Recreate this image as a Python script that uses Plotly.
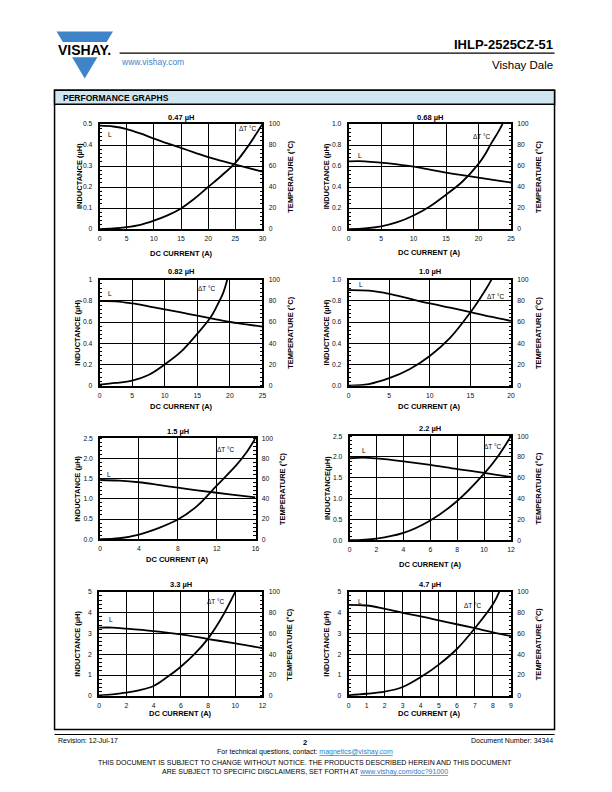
"""
Performance graphs page for IHLP-2525CZ-51: inductance and temperature
rise versus DC current, eight values on one datasheet page.
"""

import plotly.graph_objects as go

# ---- data ----
TITLES = ["0.47 µH", "0.68 µH", "0.82 µH", "1.0 µH",
          "1.5 µH", "2.2 µH", "3.3 µH", "4.7 µH"]

# 0.47 uH
L_X_047 = [0, 2.5, 5, 7.5, 10, 12.5, 15, 17.5, 20, 22.5, 25, 27.5, 30]
L_047 = [0.492, 0.488, 0.476, 0.455, 0.43, 0.408, 0.386, 0.364, 0.342, 0.324, 0.307, 0.29, 0.273]
DT_X_047 = [0, 2.5, 5, 7.5, 10, 12.5, 15, 17.5, 20, 22.5, 25, 27.5, 30]
DT_047 = [0, 0.5, 1.8, 4, 8, 13, 19.6, 29, 40, 51, 63, 80, 100]

# 0.68 uH
L_X_068 = [0, 2.5, 5, 7.5, 10, 12.5, 15, 17.5, 20, 22.5, 25]
L_068 = [0.645, 0.645, 0.632, 0.615, 0.594, 0.566, 0.538, 0.513, 0.49, 0.466, 0.443]
DT_X_068 = [0, 2.5, 5, 7.5, 10, 12.5, 15, 17.5, 20, 21, 22, 23, 23.7]
DT_068 = [0, 0.6, 2.5, 6.5, 12.9, 21.5, 32.7, 45, 62, 71, 82, 92, 100]

# 0.82 uH
L_X_082 = [0, 2.5, 5, 7.5, 10, 12.5, 15, 17.5, 20, 22.5, 25]
L_082 = [0.797, 0.795, 0.775, 0.748, 0.72, 0.69, 0.66, 0.63, 0.60, 0.578, 0.556]
DT_X_082 = [0, 2.5, 5, 7.5, 10, 12.5, 15, 17, 18, 19, 19.6]
DT_082 = [1, 2.5, 4.7, 10, 20, 32, 49, 64, 75, 88, 100]

# 1.0 uH
L_X_10 = [0, 2.5, 5, 7.5, 10, 12.5, 15, 17.5, 20]
L_10 = [0.90, 0.895, 0.866, 0.82, 0.775, 0.735, 0.694, 0.65, 0.61]
DT_X_10 = [0, 2.5, 5, 7.5, 10, 12.5, 15, 16, 17, 17.6]
DT_10 = [0, 1.5, 7, 15.5, 28, 45, 69, 80, 92, 100]

# 1.5 uH
L_X_15 = [0, 2, 4, 6, 8, 10, 12, 14, 16]
L_15 = [1.465, 1.45, 1.41, 1.345, 1.275, 1.21, 1.15, 1.09, 1.035]
DT_X_15 = [0, 2, 4, 6, 8, 10, 12, 14, 15, 16]
DT_15 = [0, 1, 4.6, 11, 19.5, 33, 53, 73, 85, 100]

# 2.2 uH
L_X_22 = [0, 1, 2, 4, 6, 8, 10, 12]
L_22 = [1.97, 1.985, 1.965, 1.895, 1.81, 1.71, 1.62, 1.52]
DT_X_22 = [0, 2, 4, 6, 8, 10, 11, 12]
DT_22 = [0, 1.6, 7, 19, 37.7, 64, 80, 100]

# 3.3 uH
L_X_33 = [0, 1, 2, 4, 6, 8, 10, 12]
L_33 = [3.28, 3.28, 3.23, 3.11, 2.95, 2.73, 2.52, 2.29]
DT_X_33 = [0, 1, 2, 3, 4, 5, 6, 7, 8, 9, 10]
DT_33 = [0.5, 1.5, 3, 5.5, 9.5, 18, 28, 40, 55, 75, 100]

# 4.7 uH
L_X_47 = [0, 1, 2, 3, 4, 5, 6, 7, 8, 9]
L_47 = [4.37, 4.34, 4.18, 3.99, 3.82, 3.63, 3.44, 3.25, 3.05, 2.87]
DT_X_47 = [0, 1, 2, 3, 4, 5, 6, 7, 8, 8.35]
DT_47 = [0.5, 2, 4, 8.5, 18, 30, 45, 65, 88, 100]

# axis ticks
X_TICKS = [
    [0, 5, 10, 15, 20, 25, 30],
    [0, 5, 10, 15, 20, 25],
    [0, 5, 10, 15, 20, 25],
    [0, 5, 10, 15, 20],
    [0, 4, 8, 12, 16],
    [0, 2, 4, 6, 8, 10, 12],
    [0, 2, 4, 6, 8, 10, 12],
    [0, 1, 2, 3, 4, 5, 6, 7, 8, 9],
]
Y_TICKS = [
    [0, 0.1, 0.2, 0.3, 0.4, 0.5],
    [0, 0.2, 0.4, 0.6, 0.8, 1.0],
    [0, 0.2, 0.4, 0.6, 0.8, 1.0],
    [0, 0.2, 0.4, 0.6, 0.8, 1.0],
    [0, 0.5, 1.0, 1.5, 2.0, 2.5],
    [0, 0.5, 1.0, 1.5, 2.0, 2.5],
    [0, 1, 2, 3, 4, 5],
    [0, 1, 2, 3, 4, 5],
]
Y_TEXT = [
    ["0", "0.1", "0.2", "0.3", "0.4", "0.5"],
    ["0.0", "0.2", "0.4", "0.6", "0.8", "1.0"],
    ["0", "0.2", "0.4", "0.6", "0.8", "1"],
    ["0.0", "0.2", "0.4", "0.6", "0.8", "1.0"],
    ["0.0", "0.5", "1.0", "1.5", "2.0", "2.5"],
    ["0.0", "0.5", "1.0", "1.5", "2.0", "2.5"],
    ["0", "1", "2", "3", "4", "5"],
    ["0", "1", "2", "3", "4", "5"],
]
T_TICKS = [0, 20, 40, 60, 80, 100]
Y_TITLES = ["INDUCTANCE (µH)"] * 5 + ["INDUCTANCE(µH)"] + ["INDUCTANCE (µH)"] * 2

L_SERIES = [(L_X_047, L_047), (L_X_068, L_068), (L_X_082, L_082), (L_X_10, L_10),
            (L_X_15, L_15), (L_X_22, L_22), (L_X_33, L_33), (L_X_47, L_47)]
DT_SERIES = [(DT_X_047, DT_047), (DT_X_068, DT_068), (DT_X_082, DT_082), (DT_X_10, DT_10),
             (DT_X_15, DT_15), (DT_X_22, DT_22), (DT_X_33, DT_33), (DT_X_47, DT_47)]

# ---- page layout (pixels on the 612 x 792 page) ----
# the html body has an 8 px margin, so the figure covers page 8..612 / 8..792
PAGE_W, PAGE_H = 612, 792
OFF = 8
W, H = PAGE_W - OFF, PAGE_H - OFF
# plot area: left, right, top, bottom
BOXES = [
    (98.5, 263, 121, 227), (350, 514, 121, 227),
    (98.5, 263, 278, 385), (350, 514, 278, 385),
    (99, 256, 438, 540), (351, 514, 436, 541),
    (98, 263, 593, 698), (350, 514, 593, 698),
]
TITLE_Y = [114, 114, 270, 270, 431.5, 428, 586, 586]
XTITLE_Y = [252, 251, 406.5, 406.5, 560.5, 565, 716, 716]
YL_X = [78.3, 328, 76.7, 328, 76.7, 328, 76.7, 328]
YR_X = [291, 541.7, 291, 541.7, 283, 541.7, 290.7, 541.7]
# "L" and "dT" label spots in data units (x, y-left) and (x, y-right)
L_LABEL = [(1.2, 0.45), (1.1, 0.70), (1.0, 0.87), (1.0, 0.95),
           (0.5, 1.6), (0.8, 2.16), (0.6, 3.68), (0.4, 4.53)]
DT_LABEL = [(27.4, 96), (20.6, 88), (16.5, 92), (18.2, 84),
            (13.0, 89), (10.7, 90), (8.6, 90.5), (6.9, 87)]

FONT = "Arial, Liberation Sans, sans-serif"
BLUE = "#3f83c9"
TICK_FONT = dict(family=FONT, size=6.8, color="#111")


def px(x):
    return (x - OFF) / W


def py(y):
    return 1 - (y - OFF) / H


def text(s, x, y, size, xanchor="center", bold=False, angle=0, color="black"):
    if bold:
        s = "<b>" + s + "</b>"
    return dict(text=s, x=px(x), y=py(y), xref="paper", yref="paper",
                xanchor=xanchor, yanchor="middle", showarrow=False,
                textangle=angle, font=dict(family=FONT, size=size, color=color))


fig = go.Figure()
layout = {}
annotations = []
shapes = []

for i in range(8):
    n = i + 1
    left, right, top, bottom = BOXES[i]
    xa = "xaxis" if n == 1 else f"xaxis{n}"
    ya = "yaxis" if n == 1 else f"yaxis{n}"
    yr = f"yaxis{n + 8}"
    xref = "x" if n == 1 else f"x{n}"
    yref = "y" if n == 1 else f"y{n}"
    yrref = f"y{n + 8}"
    xt = X_TICKS[i]

    layout[xa] = dict(
        domain=[px(left), px(right)], anchor=yref, range=[xt[0], xt[-1]],
        tickvals=xt, ticks="", showgrid=True, gridcolor="black", gridwidth=1.4,
        showline=True, linecolor="black", linewidth=1.8, mirror=True,
        zeroline=False, tickfont=TICK_FONT, ticklabelstandoff=2, fixedrange=True,
    )
    yt = Y_TICKS[i]
    ystep = yt[1] - yt[0]
    layout[ya] = dict(
        domain=[py(bottom), py(top)], anchor=xref, range=[yt[0], yt[-1]],
        tickvals=yt, ticktext=Y_TEXT[i], ticks="", showgrid=True,
        gridcolor="black", gridwidth=1.4, showline=True, linecolor="black",
        linewidth=1.8, mirror=True, zeroline=False,
        tickfont=TICK_FONT, ticklabelstandoff=4, fixedrange=True,
        minor=dict(ticks="inside", ticklen=2.5, tickcolor="black", tickwidth=0.8,
                   dtick=ystep / 5, tick0=0, showgrid=False),
    )
    layout[yr] = dict(
        overlaying=yref, side="right", anchor=xref, range=[0, 100],
        tickvals=T_TICKS, ticks="", showgrid=False, showline=True,
        linecolor="black", linewidth=1.8, zeroline=False,
        tickfont=TICK_FONT, ticklabelstandoff=3, fixedrange=True,
        minor=dict(ticks="inside", ticklen=2.5, tickcolor="black", tickwidth=0.8,
                   dtick=4, tick0=0, showgrid=False),
    )

    lx, ly = L_SERIES[i]
    fig.add_trace(go.Scatter(x=lx, y=ly, xaxis=xref, yaxis=yref, mode="lines",
                             line=dict(color="black", width=1.8, shape="spline"),
                             showlegend=False, hoverinfo="skip"))
    dx, dy = DT_SERIES[i]
    fig.add_trace(go.Scatter(x=dx, y=dy, xaxis=xref, yaxis=yrref, mode="lines",
                             line=dict(color="black", width=1.8, shape="spline"),
                             showlegend=False, hoverinfo="skip"))

    cx = (left + right) / 2
    cy = (top + bottom) / 2
    annotations.append(text(TITLES[i], cx, TITLE_Y[i], 7.5, bold=True))
    annotations.append(text("DC CURRENT (A)", cx, XTITLE_Y[i], 7.5, bold=True))
    annotations.append(text(Y_TITLES[i], YL_X[i], cy, 7.5, bold=True, angle=-90))
    annotations.append(text("TEMPERATURE (°C)", YR_X[i], cy, 7.5, bold=True, angle=-90))
    annotations.append(dict(text="L", x=L_LABEL[i][0], y=L_LABEL[i][1], xref=xref, yref=yref,
                            showarrow=False, xanchor="left",
                            font=dict(family=FONT, size=6.5, color="black")))
    annotations.append(dict(text="ΔT °C", x=DT_LABEL[i][0], y=DT_LABEL[i][1], xref=xref,
                            yref=yrref, showarrow=False,
                            font=dict(family=FONT, size=6.5, color="black")))

# ---- page header ----
def path(points):
    return "M " + " L ".join(f"{px(x)},{py(y)}" for x, y in points) + " Z"


shapes.append(dict(type="path", xref="paper", yref="paper", line=dict(width=0),
                   fillcolor=BLUE,
                   path=path([(55, 27.7), (112, 27.7), (105.6, 38.3), (61.4, 38.3)])))
shapes.append(dict(type="path", xref="paper", yref="paper", line=dict(width=0),
                   fillcolor=BLUE,
                   path=path([(70.7, 53.7), (96.3, 53.7), (83.5, 75)])))
annotations.append(text("VISHAY.", 54, 46, 14, xanchor="left", bold=True))
shapes.append(dict(type="line", xref="paper", yref="paper", x0=px(118.7), x1=px(558),
                   y0=py(49.5), y1=py(49.5), line=dict(color="black", width=1.2)))
annotations.append(text("www.vishay.com", 118, 58.5, 8.5, xanchor="left", color=BLUE))
annotations.append(text("IHLP-2525CZ-51", 558, 40.5, 13, xanchor="right", bold=True))
annotations.append(text("Vishay Dale", 558, 61.5, 11.5, xanchor="right"))

# frame around the graphs
shapes.append(dict(type="rect", xref="paper", yref="paper", x0=px(53), x1=px(558),
                   y0=py(732), y1=py(87), line=dict(color="black", width=1.5)))
shapes.append(dict(type="rect", xref="paper", yref="paper", x0=px(53), x1=px(558),
                   y0=py(101), y1=py(87), fillcolor="#cfe5f2",
                   line=dict(color="black", width=1.5)))
annotations.append(text("PERFORMANCE GRAPHS", 60, 94.5, 8.5, xanchor="left", bold=True))

# ---- footer ----
shapes.append(dict(type="line", xref="paper", yref="paper", x0=px(53), x1=px(558),
                   y0=py(737), y1=py(737), line=dict(color="black", width=1.2)))
annotations.append(text("Revision: 12-Jul-17", 54, 743, 7, xanchor="left"))
annotations.append(text("2", 306, 745, 7.5, bold=True))
annotations.append(text("Document Number: 34344", 558, 743, 7, xanchor="right"))
link = "<span style='color:#2e7bc8'><u>{}</u></span>"
annotations.append(text("For technical questions, contact: " + link.format("magnetics@vishay.com"),
                        306, 754.5, 7))
annotations.append(text("THIS DOCUMENT IS SUBJECT TO CHANGE WITHOUT NOTICE. THE PRODUCTS "
                        "DESCRIBED HEREIN AND THIS DOCUMENT", 306, 765, 7))
annotations.append(text("ARE SUBJECT TO SPECIFIC DISCLAIMERS, SET FORTH AT "
                        + link.format("www.vishay.com/doc?91000"), 306, 774.5, 7))

fig.update_layout(
    width=W, height=H, margin=dict(l=0, r=0, t=0, b=0),
    paper_bgcolor="white", plot_bgcolor="white",
    font=dict(family=FONT, color="black"),
    annotations=annotations, shapes=shapes, showlegend=False,
    **layout,
)

fig.write_html("out.html", config={"displayModeBar": False})
